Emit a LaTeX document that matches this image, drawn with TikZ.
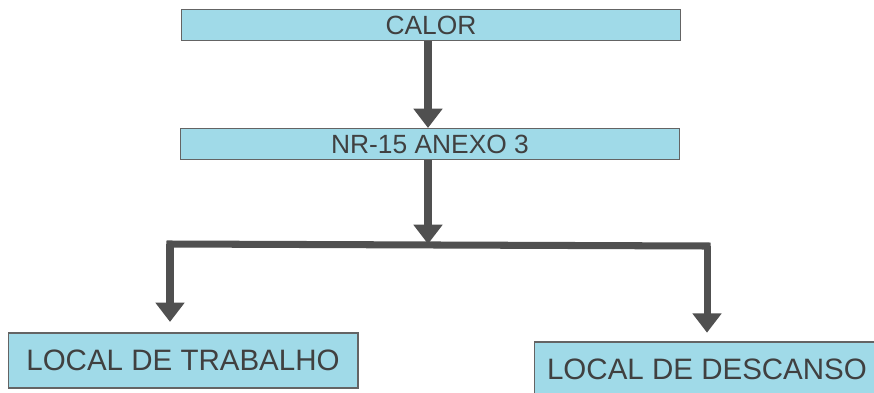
\documentclass[tikz,border=0pt]{standalone}
\usepackage{fontspec}
\setmainfont{Liberation Sans}
\usetikzlibrary{arrows.meta,positioning,calc}

\definecolor{boxblue}{RGB}{160,218,232}
\definecolor{boxline}{RGB}{100,100,100}
\definecolor{arrowgray}{RGB}{80,80,80}

\begin{document}
\begin{tikzpicture}[x=0.02cm, y=-0.02cm,
    topbox/.style={rectangle, draw=boxline, fill=boxblue, line width=0.6pt, inner sep=0pt,
        minimum width=10cm, minimum height=0.62cm, font=\fontsize{15}{18}\selectfont, text=black!75},
    endbox/.style={rectangle, draw=boxline, fill=boxblue, line width=0.6pt, inner sep=0pt,
        minimum width=7cm, minimum height=1.1cm, font=\fontsize{16.8}{20}\selectfont, text=black!75},
    flow/.style={draw=arrowgray, line width=4pt, -{Triangle[width=16pt, length=11pt]}},
    bar/.style={draw=arrowgray, line width=4pt, line cap=rect}]
    \useasboundingbox (0,0) rectangle (874,392);

    % Top: heat and the standard
    \node[topbox] (calor) at (431,25) {CALOR};
    \node[topbox] (nr) at (430,144) {NR-15 ANEXO 3};
    \draw[flow] (calor.south -| 428,0) -- (nr.north -| 428,0);

    % Split into the two places
    \coordinate (split) at (428,244);
    \coordinate (lcorner) at (170,244);
    \coordinate (rcorner) at (707,246);
    \draw[flow] (nr.south -| split) -- (split);
    \draw[bar] (lcorner) -- (rcorner);

    % Bottom: the two places
    \node[endbox] (trabalho) at (183,360.5) {LOCAL DE TRABALHO};
    \node[endbox, minimum width=6.9cm] (descanso) at (707,369.5) {LOCAL DE DESCANSO};
    \draw[flow, shorten >=6pt] (lcorner) -- (trabalho.north -| lcorner);
    \draw[flow, shorten >=5pt] (rcorner) -- (descanso.north -| rcorner);
\end{tikzpicture}
\end{document}
